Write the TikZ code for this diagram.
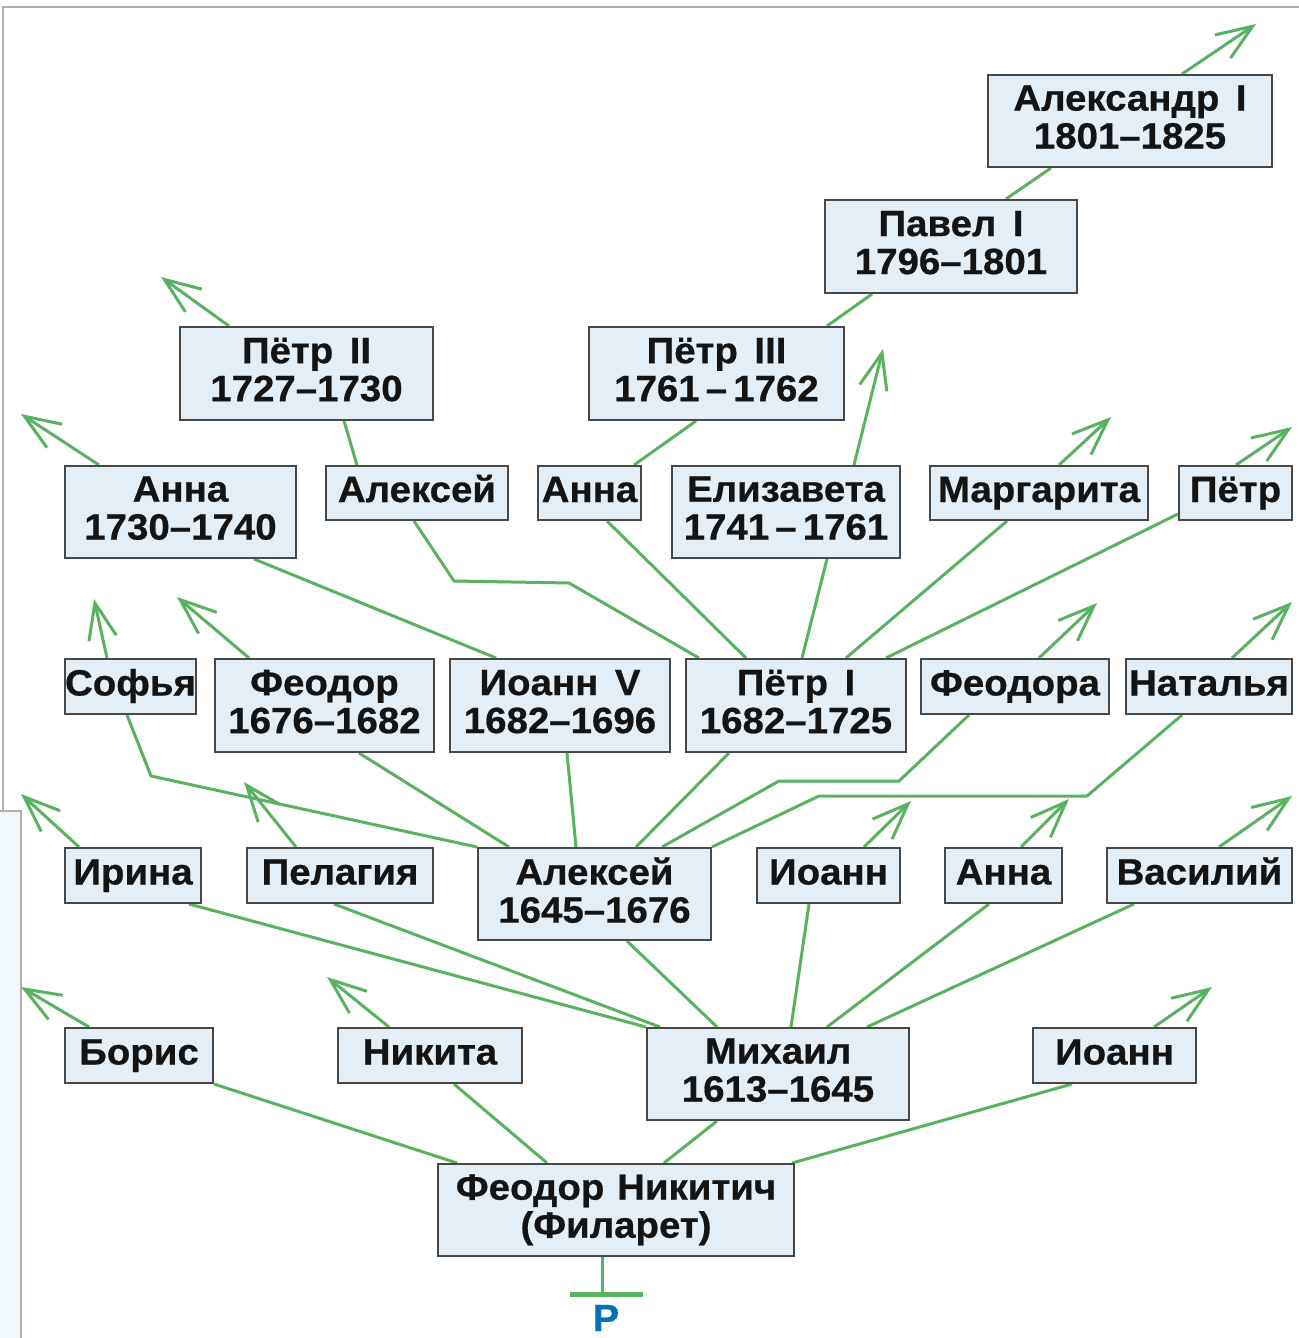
\documentclass[tikz,border=0pt]{standalone}
\usepackage{fontspec}
\newfontfamily\lblfont{Liberation Sans}[FakeStretch=1.05,FakeBold=0.6]
\usetikzlibrary{arrows.meta,calc,backgrounds}
\definecolor{lgreen}{RGB}{88,178,96}
\definecolor{boxfill}{RGB}{228,238,247}
\definecolor{boxline}{RGB}{72,72,72}
\definecolor{inkc}{RGB}{20,20,20}
\definecolor{rblue}{RGB}{0,114,188}
\definecolor{framec}{RGB}{175,175,175}
\definecolor{paleblue}{RGB}{240,247,253}

\tikzset{
  famb/.style={draw=boxline, fill=boxfill, line width=1pt, inner sep=0pt,
    align=center, text=inkc, text depth=4pt,
    font=\lblfont\bfseries\fontsize{18.3}{19}\selectfont},
  oneline/.style={text height=13pt, text depth=4pt},
  link/.style={draw=lgreen, line width=1.5pt, line join=round},
  upbr/.style={link, -{Straight Barb[length=18pt,width=14pt]}},
}

% box given by its corners (x1,y1)-(x2,y2), units of the picture
\newcommand\famnode[7][]{%
  \node[famb,#1,minimum width={(#5-#3)*0.5pt},minimum height={(#6-#4)*0.5pt}]
    (#2) at ({(#3+#5)/2},{(#4+#6)/2}) {#7};}
\newcommand\wsp{\hspace{0.45em}}

\begin{document}
\begin{tikzpicture}[x=0.5pt,y=-0.5pt]
\useasboundingbox (0,0) rectangle (1299,1338);

% --- boxes ---
\famnode{alx1}{988}{75}{1272}{167}{Александр\wsp I\\1801–1825}
\famnode{pav}{825}{200}{1077}{293}{Павел\wsp I\\1796–1801}
\famnode{p2}{180}{327}{433}{420}{Пётр\wsp II\\1727–1730}
\famnode{p3}{589}{327}{844}{420}{Пётр\wsp III\\1761\,–\,1762}

\famnode{anna1730}{65}{466}{296}{558}{Анна\\1730–1740}
\famnode[oneline]{alex2}{326}{466}{508}{520}{Алексей}
\famnode[oneline]{anna2}{538}{466}{641}{520}{Анна}
\famnode{eliz}{672}{466}{900}{558}{Елизавета\\1741\,–\,1761}
\famnode[oneline]{marg}{930}{466}{1148}{520}{Маргарита}
\famnode[oneline]{petr2}{1179}{466}{1292}{520}{Пётр}

\famnode[oneline]{sofia}{65}{659}{196}{714}{Софья}
\famnode{feod}{215}{659}{434}{752}{Феодор\\1676–1682}
\famnode{ivan5}{450}{659}{670}{752}{Иоанн\wsp V\\1682–1696}
\famnode{p1}{686}{659}{906}{752}{Пётр\wsp I\\1682–1725}
\famnode[oneline]{feodora}{921}{659}{1109}{714}{Феодора}
\famnode[oneline]{natalia}{1126}{659}{1292}{714}{Наталья}

\famnode[oneline]{irina}{65}{848}{201}{903}{Ирина}
\famnode[oneline]{pelag}{247}{848}{433}{903}{Пелагия}
\famnode{alex1}{478}{848}{711}{940}{Алексей\\1645–1676}
\famnode[oneline]{ivan2}{757}{848}{900}{903}{Иоанн}
\famnode[oneline]{anna3}{945}{848}{1062}{903}{Анна}
\famnode[oneline]{vasil}{1107}{848}{1292}{903}{Василий}

\famnode[oneline]{boris}{65}{1028}{213}{1083}{Борис}
\famnode[oneline]{nikita}{338}{1028}{522}{1083}{Никита}
\famnode{mikh}{647}{1028}{909}{1120}{Михаил\\1613–1645}
\famnode[oneline]{ivan1}{1033}{1028}{1196}{1083}{Иоанн}

\famnode{fil}{438}{1164}{794}{1256}{Феодор\hspace{0.35em}Никитич\\(Филарет)}

% --- root mark under the founder ---
\draw[link] ($(fil.south west)+(165,0)$) -- ++(0,37) coordinate (stemfoot);
\draw[lgreen, line width=2.5pt] ($(stemfoot)+(-32,0)$) -- ($(stemfoot)+(41,0)$);
\node[text=rblue, inner sep=0pt, font=\lblfont\bfseries\fontsize{19}{20}\selectfont]
  (rmark) at ($(stemfoot)+(4,24)$) {Р};

\begin{scope}[on background layer]
  \fill[white] (0,0) rectangle (1299,1338);
  \fill[paleblue] (0,812) rectangle (20,1338);
  \draw[framec, line width=0.6pt] (1299,7) -- (3,7) -- (3,811);
  \draw[framec, line width=0.6pt] (0,811) -- (21,811) -- (21,1338);

  % sons of Феодор Никитич
  \draw[link] (boris.south east) -- ($(fil.north west)+(20,0)$);
  \draw[link] ($(nikita.south west)+(117,0)$) -- ($(fil.north west)+(110,0)$);
  \draw[link] ($(mikh.south west)+(71,0)$) -- ($(fil.north west)+(227,0)$);
  \draw[link] ($(ivan1.south west)+(40,0)$) -- ($(fil.north east)+(-3,0)$);
  \draw[upbr] ($(boris.north west)+(25,0)$) -- ++(-68,-40);
  \draw[upbr] ($(nikita.north west)+(52,0)$) -- ++(-62,-50);
  \draw[upbr] ($(ivan1.north west)+(122,0)$) -- ++(58,-40);

  % children of Михаил
  \draw[link] ($(irina.south west)+(125,0)$) -- (mikh.north west);
  \draw[link] ($(pelag.south west)+(88,0)$) -- ($(mikh.north west)+(14,0)$);
  \draw[link] ($(alex1.south west)+(150,0)$) -- ($(mikh.north west)+(71,0)$);
  \draw[link] ($(ivan2.south west)+(53,0)$) -- ($(mikh.north west)+(145,0)$);
  \draw[link] ($(anna3.south west)+(45,0)$) -- ($(mikh.north west)+(181,0)$);
  \draw[link] ($(vasil.south west)+(28,0)$) -- ($(mikh.north west)+(221,0)$);
  \draw[upbr] ($(irina.north west)+(15,0)$) -- ++(-58,-53);
  \draw[upbr] ($(pelag.north west)+(50,0)$) -- ++(-52,-65);
  \draw[upbr] ($(ivan2.north west)+(108,0)$) -- ++(47,-46);
  \draw[upbr] ($(anna3.north west)+(77,0)$) -- ++(48,-48);
  \draw[upbr] ($(vasil.north west)+(113,0)$) -- ++(73,-51);

  % children of Алексей Михайлович
  \draw[link] ($(sofia.south west)+(63,0)$) -- ++(24,61) -- (alex1.north west);
  \draw[link] ($(feod.south west)+(145,0)$) -- ($(alex1.north west)+(32,0)$);
  \draw[link] ($(ivan5.south west)+(118,0)$) -- ($(alex1.north west)+(99,0)$);
  \draw[link] ($(p1.south west)+(44,0)$) -- ($(alex1.north west)+(159,0)$);
  \draw[link] ($(feodora.south west)+(49,0)$) -- ++(-70,66) -- ++(-120,0)
    -- ($(alex1.north west)+(185,0)$);
  \draw[link] ($(natalia.south west)+(57,0)$) -- ++(-95,81) -- ++(-268,0)
    -- (alex1.north east);
  \draw[upbr] ($(sofia.north west)+(43,0)$) -- ++(-13,-59);
  \draw[upbr] ($(feod.north west)+(35,0)$) -- ++(-72,-61);
  \draw[upbr] ($(feodora.north west)+(119,0)$) -- ++(58,-55);
  \draw[upbr] ($(natalia.north west)+(107,0)$) -- ++(60,-56);

  % daughter of Иоанн V
  \draw[link] ($(anna1730.south west)+(190,0)$) -- ($(ivan5.north west)+(47,0)$);
  \draw[upbr] ($(anna1730.north west)+(35,0)$) -- ++(-78,-51);

  % children of Пётр I
  \draw[link] ($(alex2.south west)+(89,0)$) -- ++(40,60) -- ++(115,2)
    -- ($(p1.north west)+(14,0)$);
  \draw[link] ($(anna2.south west)+(70,0)$) -- ($(p1.north west)+(61,0)$);
  \draw[link] ($(eliz.south west)+(156,0)$) -- ($(p1.north west)+(117,0)$);
  \draw[link] ($(marg.south west)+(78,0)$) -- ($(p1.north west)+(161,0)$);
  \draw[link] ($(petr2.south west)+(0,-7)$) -- ($(p1.north west)+(201,0)$);
  \draw[upbr] ($(eliz.north west)+(183,0)$) -- ++(29,-116);
  \draw[upbr] ($(marg.north west)+(130,0)$) -- ++(52,-48);
  \draw[upbr] ($(petr2.north west)+(58,0)$) -- ++(56,-38);

  % upper generations
  \draw[link] ($(alex2.north west)+(32,0)$) -- ($(p2.south west)+(165,0)$);
  \draw[upbr] ($(p2.north west)+(50,0)$) -- ++(-68,-49);
  \draw[link] ($(anna2.north west)+(97,0)$) -- ($(p3.south west)+(108,0)$);
  \draw[link] ($(p3.north west)+(239,0)$) -- ($(pav.south west)+(48,0)$);
  \draw[link] ($(pav.north west)+(182,0)$) -- ($(alx1.south west)+(64,0)$);
  \draw[upbr] ($(alx1.north west)+(195,0)$) -- ++(74,-50);
\end{scope}
\end{tikzpicture}
\end{document}
